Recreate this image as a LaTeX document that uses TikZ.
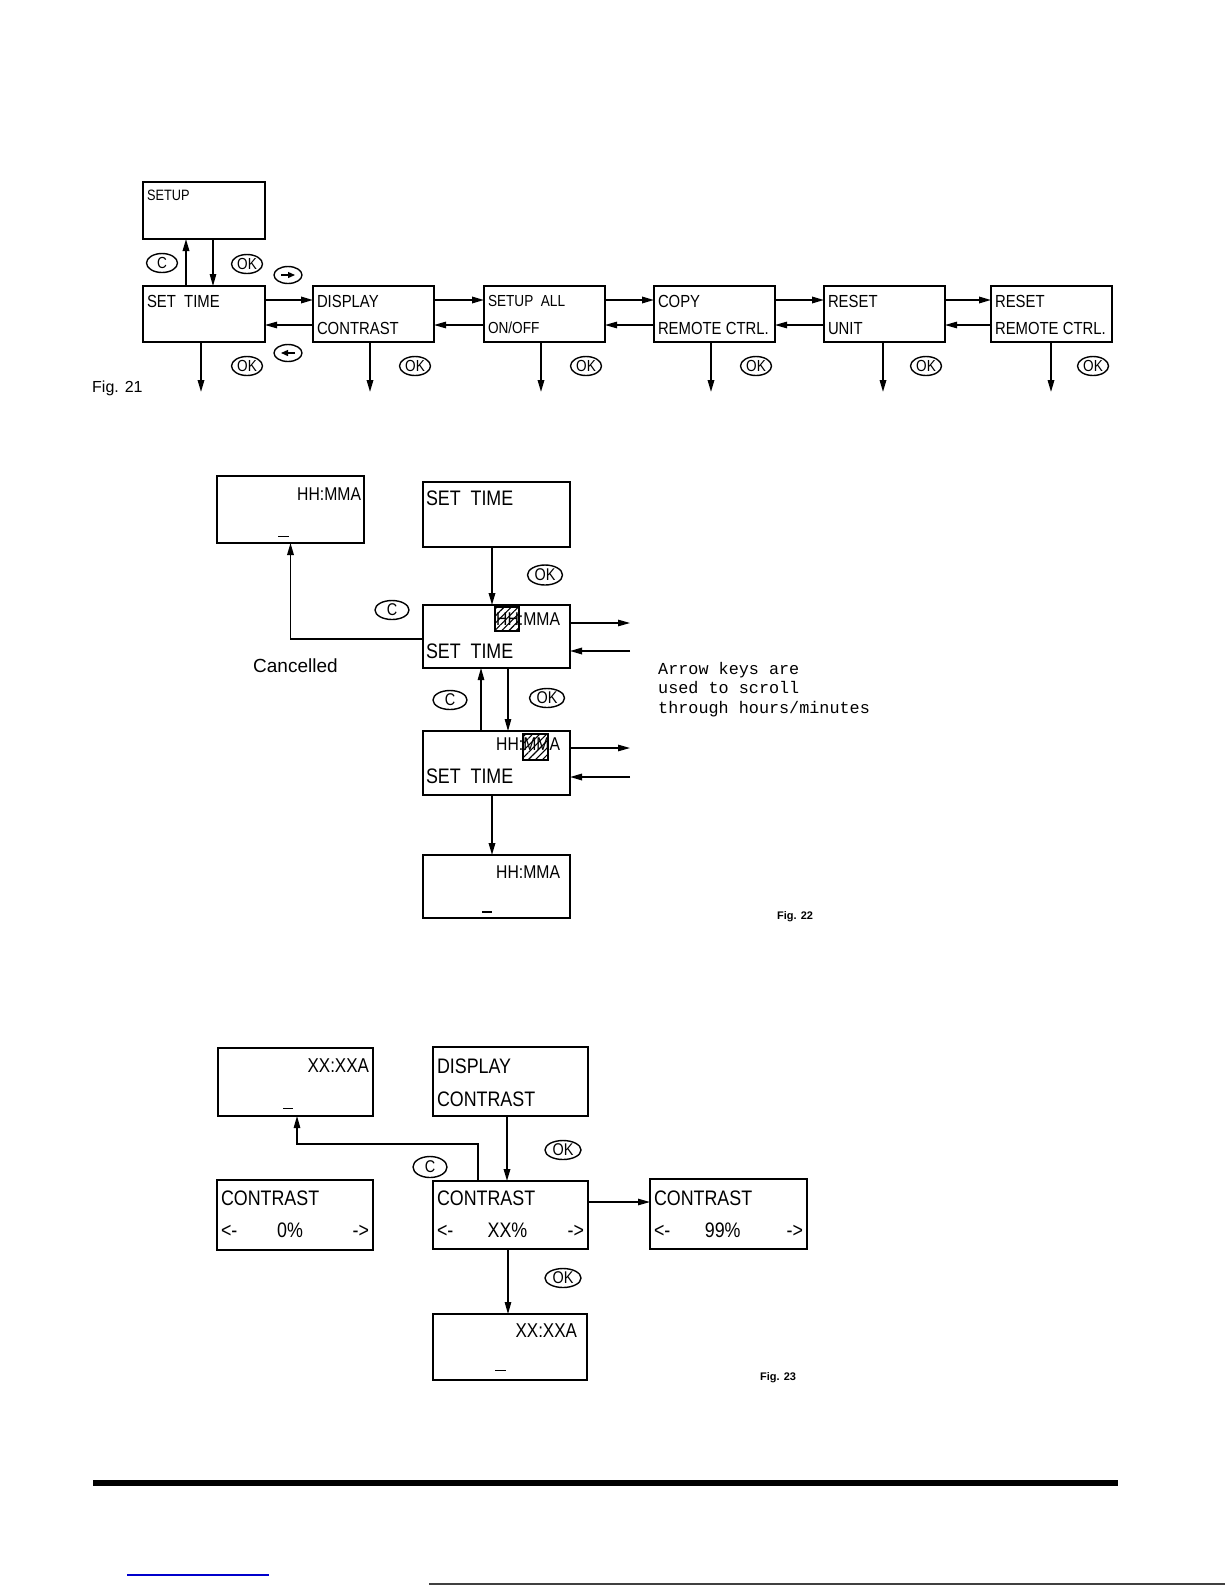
\documentclass[tikz,border=0pt]{standalone}
\usepackage{fontspec}
\setmainfont{Liberation Sans}
\newfontfamily\lcd{Liberation Sans}[FakeStretch=0.85]
\newfontfamily\mono{Liberation Mono}
\usetikzlibrary{arrows.meta,shapes.geometric,patterns.meta}
\newcommand\fsz[1]{\fontsize{#1}{#1}\selectfont}
\newcommand\mkbox[5]{\node[box, minimum width={(#4-#2)*1pt}, minimum height={(#5-#3)*1pt}] (#1) at ({(#2+#4)/2},{(#3+#5)/2}) {};}
\tikzset{
  box/.style={draw, line width=1.7pt, inner sep=0pt, outer sep=0pt},
  tA/.style={anchor=base west, inner sep=0pt, outer sep=0pt, font=\lcd\fsz{17.5}},
  tB/.style={anchor=base west, inner sep=0pt, outer sep=0pt, font=\lcd\fsz{21}},
  tC/.style={anchor=base west, inner sep=0pt, outer sep=0pt, font=\lcd\fsz{21}},
  tH/.style={anchor=base east, inner sep=0pt, outer sep=0pt, font=\lcd\fsz{18.5}},
  cur/.style={anchor=north west, inner sep=0pt, outer sep=0pt},
  key/.style={draw, ellipse, line width=1.4pt, minimum width=31pt, minimum height=19pt, inner sep=0pt, font=\lcd\fsz{16}},
  hatch/.style={draw, line width=1.2pt, inner sep=0pt, minimum width=24pt, minimum height=24pt, pattern={Lines[angle=45,distance=5pt,line width=1.1pt]}},
  arr/.style={line width=1.7pt, -{Triangle[length=12pt,width=6.5pt]}},
  tarr/.style={line width=1.1pt, -{Triangle[length=12pt,width=6.5pt]}},
}
\begin{document}
\begin{tikzpicture}[x=1pt,y=-1pt]
\useasboundingbox (0,0) rectangle (1225,1585);
% ---------------- Fig. 21
\mkbox{setup}{143}{182}{265}{239}
\node[tA, font=\lcd\fsz{15}] (tsetup) at (147,200) {SETUP};
\mkbox{b1}{143}{286}{265}{342}
\node[tA] (t1a) at (147,307) {SET\ \ TIME};
\mkbox{b2}{313}{286}{434}{342}
\node[tA] (t2a) at (317,307) {DISPLAY};
\node[tA] (t2b) at (317,334) {CONTRAST};
\mkbox{b3}{484}{286}{605}{342}
\node[tA, font=\lcd\fsz{16}] (t3a) at (488,306) {SETUP\ \ ALL};
\node[tA, font=\lcd\fsz{16}] (t3b) at (488,333) {ON/OFF};
\mkbox{b4}{654}{286}{775}{342}
\node[tA] (t4a) at (658,307) {COPY};
\node[tA] (t4b) at (658,334) {REMOTE CTRL.};
\mkbox{b5}{824}{286}{945}{342}
\node[tA] (t5a) at (828,307) {RESET};
\node[tA] (t5b) at (828,334) {UNIT};
\mkbox{b6}{991}{286}{1112}{342}
\node[tA] (t6a) at (995,307) {RESET};
\node[tA] (t6b) at (995,334) {REMOTE CTRL.};
\foreach \a/\b in {b1/b2,b2/b3,b3/b4,b4/b5,b5/b6}{
  \draw[arr] ([yshift=14pt]\a.east) -- ([yshift=14pt]\b.west);
  \draw[tarr] ([yshift=-11pt]\b.west) -- ([yshift=-11pt]\a.east);
}
\draw[arr] ([xshift=43pt]b1.north west) -- ([xshift=43pt]setup.south west);
\draw[tarr] ([xshift=70pt]setup.south west) -- ([xshift=70pt]b1.north west);
\foreach \b/\o in {b1/58,b2/57,b3/57,b4/57,b5/59,b6/60}{
  \draw[arr] ([xshift=\o pt]\b.south west) -- ++(0,50);
}
\node[key] (k21c) at (162,263) {C};
\node[key] (k21ok) at (247,264) {OK};
\node[key, minimum width=28pt, minimum height=17pt] (k21r) at (288,275) {};
\draw[line width=1.3pt, -{Triangle[length=7pt,width=6pt]}] ([xshift=-7pt]k21r.center) -- ([xshift=7pt]k21r.center);
\node[key, minimum width=28pt, minimum height=17pt] (k21l) at (288,353) {};
\draw[line width=1.3pt, -{Triangle[length=7pt,width=6pt]}] ([xshift=7pt]k21l.center) -- ([xshift=-7pt]k21l.center);
\foreach \x [count=\i] in {247,415,586,756,926,1093}{
  \node[key] (ok\i) at (\x,366) {OK};
}
\node[anchor=base west, inner sep=0pt, font=\fsz{16}] (f21) at (92,392) {Fig. 21};
% ---------------- Fig. 22
\mkbox{hm1}{217}{476}{364}{543}
\node[tH] (thm1) at (361,500) {HH:MMA};
\node[cur] (cur1) at (278,536) {\rule{11pt}{1.2pt}};
\mkbox{s22}{423}{482}{570}{547}
\node[tB] (ts22) at (426,505) {SET\ \ TIME};
\mkbox{A}{423}{605}{570}{668}
\node[tH] (tA1) at (560,625) {HH:MMA};
\node[hatch] (hA) at (507,619) {};
\node[tB] (tA2) at (426,658) {SET\ \ TIME};
\mkbox{B}{423}{731}{570}{795}
\node[tH] (tB1) at (560,750) {HH:MMA};
\node[hatch, minimum width=25pt, minimum height=26pt] (hB) at (535.5,747) {};
\node[tB] (tB2) at (426,783) {SET\ \ TIME};
\mkbox{F}{423}{855}{570}{918}
\node[tH] (tF1) at (560,878) {HH:MMA};
\node[cur] (cur2) at (482,911) {\rule{10pt}{2pt}};
\draw[arr] ([xshift=-4.5pt]s22.south) -- ([xshift=-4.5pt]A.north);
\draw[tarr] ([xshift=11.5pt]A.south) -- ([xshift=11.5pt]B.north);
\draw[tarr] ([xshift=-15.5pt]B.north) -- ([xshift=-15.5pt]A.south);
\draw[arr] ([xshift=-4.5pt]B.south) -- ([xshift=-4.5pt]F.north);
\draw[arr] ([yshift=-2.5pt]A.west) -| (hm1.south);
\coordinate (Aout) at ([xshift=60pt,yshift=13.5pt]A.east);
\coordinate (Ain) at ([xshift=60pt,yshift=-14.5pt]A.east);
\coordinate (Bout) at ([xshift=60pt,yshift=15pt]B.east);
\coordinate (Bin) at ([xshift=60pt,yshift=-14pt]B.east);
\draw[tarr] ([yshift=13.5pt]A.east) -- (Aout);
\draw[arr] (Ain) -- ([yshift=-14.5pt]A.east);
\draw[tarr] ([yshift=15pt]B.east) -- (Bout);
\draw[arr] (Bin) -- ([yshift=-14pt]B.east);
\node[key, minimum width=34pt, font=\lcd\fsz{17}] (k22c1) at (392,610) {C};
\node[key, minimum width=35pt, minimum height=20pt, font=\lcd\fsz{17}] (k22ok1) at (545,575) {OK};
\node[key, minimum width=34pt, font=\lcd\fsz{17}] (k22c2) at (450,700) {C};
\node[key, minimum width=35pt, font=\lcd\fsz{17}] (k22ok2) at (547,698) {OK};
\node[anchor=base west, inner sep=0pt, font=\fsz{19}] (canc) at (253,672) {Cancelled};
\node[anchor=north west, inner sep=0pt, align=left, font=\mono\fontsize{16.8}{19.5}\selectfont] (note) at (658,662) {Arrow keys are\\used to scroll\\through hours/minutes};
\node[anchor=base west, inner sep=0pt, font=\bfseries\fsz{11}] (f22) at (777,919) {Fig. 22};
% ---------------- Fig. 23
\mkbox{x1}{218}{1048}{373}{1116}
\node[tH, font=\lcd\fsz{20}] (tx1) at (369,1072) {XX:XXA};
\node[cur] (cur3) at (283,1108) {\rule{10pt}{1.2pt}};
\mkbox{dc}{433}{1047}{588}{1116}
\node[tC] (tdc1) at (437,1073) {DISPLAY};
\node[tC] (tdc2) at (437,1106) {CONTRAST};
\mkbox{c0}{217}{1180}{373}{1250}
\node[tC] (tc01) at (221,1205) {CONTRAST};
\node[tC] (tc02) at (221,1237) {\makebox[148pt][s]{<-\hskip 0pt plus 0.8fil 0\%\hskip 0pt plus 1fil ->}};
\mkbox{cx}{433}{1181}{588}{1249}
\node[tC] (tcx1) at (437,1205) {CONTRAST};
\node[tC] (tcx2) at (437,1237) {\makebox[147pt][s]{<-\hskip 0pt plus 0.85fil XX\%\hskip 0pt plus 1fil ->}};
\mkbox{c99}{650}{1179}{807}{1249}
\node[tC] (tc91) at (654,1205) {CONTRAST};
\node[tC] (tc92) at (654,1237) {\makebox[149pt][s]{<-\hskip 0pt plus 0.75fil 99\%\hskip 0pt plus 1fil ->}};
\mkbox{x2}{433}{1314}{587}{1380}
\node[tH, font=\lcd\fsz{20}] (tx2) at (577,1337) {XX:XXA};
\node[cur] (cur4) at (495,1370) {\rule{11pt}{1.2pt}};
\draw[arr] ([xshift=-3.5pt]dc.south) -- ([xshift=-3.5pt]dc.south |- cx.north);
\draw[tarr] ([xshift=-32.5pt]cx.north) -- ++(0,-37) -| ([xshift=1.5pt]x1.south);
\draw[tarr] ([yshift=13pt]cx.east) -- ([yshift=13pt]cx.east -| c99.west);
\draw[tarr] ([xshift=-2.5pt]cx.south) -- ([xshift=-2.5pt]cx.south |- x2.north);
\node[key, minimum width=36pt, font=\lcd\fsz{17}] (k23ok1) at (563,1150) {OK};
\node[key, minimum width=34pt, minimum height=21pt, font=\lcd\fsz{17}] (k23c) at (430,1167) {C};
\node[key, minimum width=36pt, font=\lcd\fsz{17}] (k23ok2) at (563,1278) {OK};
\node[anchor=base west, inner sep=0pt, font=\bfseries\fsz{11}] (f23) at (760,1380) {Fig. 23};
% ---------------- page rule and scan marks
\fill (93,1480) rectangle (1118,1486);
\draw[blue!80!black, line width=1.5pt] (127,1575) -- (269,1575);
\draw[black!75, line width=1.2pt] (429,1584) -- (1225,1584);
\end{tikzpicture}
\end{document}
